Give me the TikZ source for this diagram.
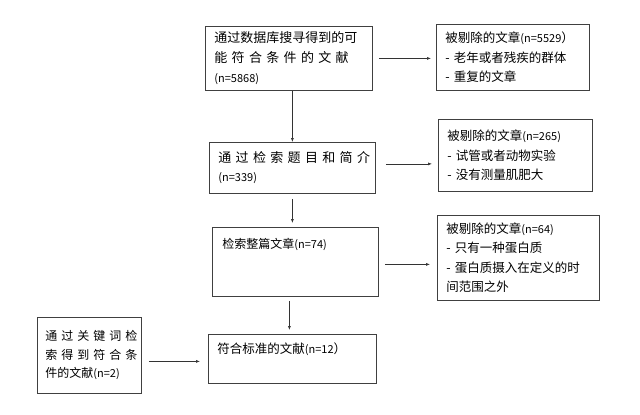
\documentclass[tikz,border=0pt]{standalone}
\usepackage{fontspec}
\setmainfont{Noto Sans CJK SC}
\usepackage{tikz}
\usetikzlibrary{arrows.meta,positioning,calc}

\newcommand{\nn}[1]{{\fontsize{11}{12}\selectfont #1}}

\begin{document}
\begin{tikzpicture}[
  x=1pt, y=-1pt,
  >={Latex[length=4pt,width=3pt]},
  every node/.style={font=\fontsize{12.5}{19.5}\selectfont},
  box/.style={draw=black!75, line width=0.8pt, anchor=north west, align=left, inner xsep=9pt, inner ysep=4pt},
  link/.style={->, draw=black!80, line width=0.6pt}
]
\useasboundingbox (0,0) rectangle (640,415);

\node[box, minimum width=167pt, minimum height=64pt, text width=149pt, font=\fontsize{13}{20}\selectfont] (search) at (205,26)
  {通过数据库搜寻得到的可\\\makebox[149pt][s]{能 符 合 条 件 的 文 献}\\\nn{(n=5868)}};
\node[box, minimum width=153pt, minimum height=66pt, text width=135pt] (excl1) at (436,24)
  {被剔除的文章\nn{(n=5529}）\\- 老年或者残疾的群体\\- 重复的文章};
\node[box, minimum width=166pt, minimum height=51pt, text width=148pt, font=\fontsize{13}{19}\selectfont] (screen) at (209,142)
  {\makebox[148pt][s]{通 过 检 索 题 目 和 简 介}\\\nn{(n=339)}};
\node[box, minimum width=154pt, minimum height=72pt, text width=136pt] (excl2) at (438,119)
  {被剔除的文章\nn{(n=265)}\\- 试管或者动物实验\\- 没有测量肌肥大};
\node[box, minimum width=166pt, text width=146pt, inner xsep=10pt, text height=17pt, text depth=44pt, font=\fontsize{12}{18}\selectfont] (fulltext) at (212,227)
  {检索整篇文章\nn{(n=74)}};
\node[box, minimum width=162pt, minimum height=85pt, text width=144pt] (excl3) at (437,215)
  {被剔除的文章\nn{(n=64)}\\- 只有一种蛋白质\\- 蛋白质摄入在定义的时\\间范围之外};
\node[box, minimum width=168pt, text width=150pt, text height=15pt, text depth=26pt] (final) at (208,334)
  {符合标准的文献\nn{(n=12}）};
\node[box, minimum width=104pt, minimum height=76pt, text width=88pt, inner xsep=8pt, font=\fontsize{12}{18.5}\selectfont] (keyword) at (37,317)
  {\makebox[88pt][s]{通 过 关 键 词 检}\\\makebox[88pt][s]{索 得 到 符 合 条}\\件的文献\nn{(n=2)}};

\draw[link, shorten >=5pt] ([xshift=6pt]search.east) -- (search.east -| excl1.west);
\draw[link, shorten >=6pt] ([xshift=10pt,yshift=4pt]screen.east) -- ([yshift=4pt]screen.east -| excl2.west);
\draw[link, shorten >=7pt] ([xshift=6pt,yshift=-2.5pt]fulltext.east) -- ([yshift=-2.5pt]fulltext.east -| excl3.west);
\draw[link, shorten >=8pt] ([xshift=7pt,yshift=-6pt]keyword.east) -- ([yshift=-6pt]keyword.east -| final.west);
\draw[link] (search.south -| screen.north) -- (screen.north);
\draw[link] ([yshift=-5pt]screen.south) -- ([yshift=4pt]screen.south |- fulltext.north);
\draw[link] ([xshift=-6pt,yshift=-4pt]fulltext.south) -- ([xshift=-6pt,yshift=4pt]fulltext.south |- final.north);
\end{tikzpicture}
\end{document}
